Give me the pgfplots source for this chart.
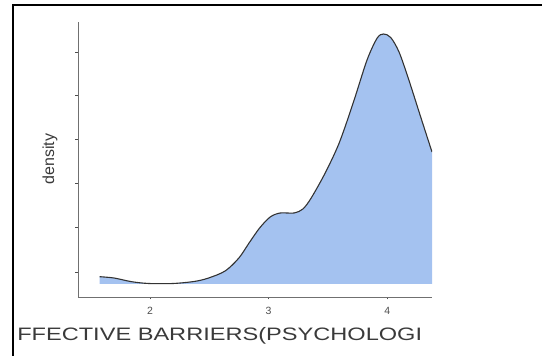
\documentclass[border=0pt]{standalone}
\usepackage{pgfplots}
\pgfplotsset{compat=1.18}
\usepackage{fontspec}
\setmainfont{Liberation Sans}
\definecolor{fillblue}{HTML}{A4C2F0}
\definecolor{lab}{HTML}{3A3A3A}
\definecolor{tlab}{HTML}{4D4D4D}
\definecolor{axl}{HTML}{707070}
\begin{document}
\begin{tikzpicture}[x=1pt,y=1pt]
\path[use as bounding box] (0,0) rectangle (542,356);
\draw[black, line width=2.5pt] (13,0) -- (13,351) -- (542,351);
\begin{axis}[
  at={(78pt,59pt)}, anchor=south west,
  scale only axis, width=354pt, height=275pt,
  xmin=1.392, xmax=4.378, ymin=-13, ymax=262,
  axis x line*=bottom, axis y line*=left,
  axis line style={draw=axl, line width=0.9pt, -},
  xtick={2,3,4},
  ytick={12,57,101,145,189,232}, yticklabels={},
  tick align=outside, major tick length=2.5pt,
  x tick style={draw=tlab, line width=0.9pt},
  y tick style={draw=tlab, line width=0.7pt},
  x tick label style={font=\fontsize{10.5}{12}\selectfont, text=tlab, yshift=-4pt},
  /pgf/number format/assume math mode=true,
  xlabel={FFECTIVE BARRIERS(PSYCHOLOGI},
  xlabel style={at={(axis description cs:-0.1723,-0.16)}, anchor=base west,
    font=\fontsize{18}{20}\selectfont, text=lab, xscale=1.31, inner sep=0pt},
  ylabel={density},
  ylabel style={at={(axis description cs:-0.079,0.502)}, anchor=center, rotate=0,
    font=\fontsize{16}{18}\selectfont, text=lab},
  clip=true,
]
\addplot[fill=fillblue, draw=none, smooth] coordinates {
(1.575,7.3) (1.696,6) (1.844,2.3) (1.990,0.5) (2.194,0.5) (2.370,2.5) (2.486,5.7)
(2.633,13) (2.749,26) (2.835,41) (2.924,56) (3.013,67) (3.097,71) (3.215,71)
(3.289,75) (3.359,86) (3.477,111) (3.595,141) (3.713,181) (3.830,224) (3.916,246)
(3.970,250) (4.030,246.5) (4.100,232) (4.180,205) (4.280,168) (4.378,132)
} \closedcycle;
\addplot[draw=black!80, line width=1.1pt, smooth] coordinates {
(1.575,7.3) (1.696,6) (1.844,2.3) (1.990,0.5) (2.194,0.5) (2.370,2.5) (2.486,5.7)
(2.633,13) (2.749,26) (2.835,41) (2.924,56) (3.013,67) (3.097,71) (3.215,71)
(3.289,75) (3.359,86) (3.477,111) (3.595,141) (3.713,181) (3.830,224) (3.916,246)
(3.970,250) (4.030,246.5) (4.100,232) (4.180,205) (4.280,168) (4.378,132)
};
\end{axis}
\end{tikzpicture}
\end{document}
